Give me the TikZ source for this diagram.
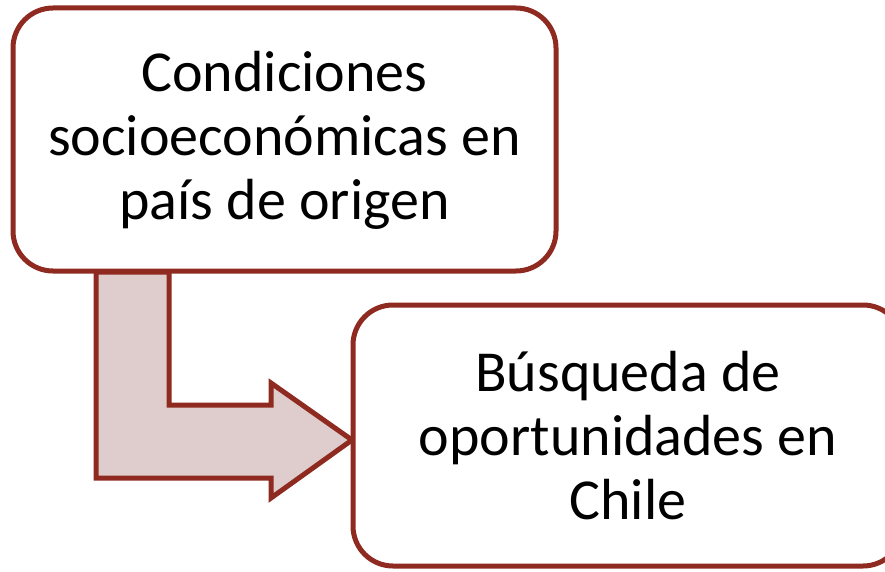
\documentclass[tikz,border=0pt]{standalone}
\usepackage{fontspec}
\setmainfont{Carlito}
\definecolor{edgered}{HTML}{8E2A1F}
\definecolor{arrowfill}{HTML}{DFCDCD}
\begin{document}
\begin{tikzpicture}[x=1pt,y=1pt,
  roundbox/.style={draw=edgered, line width=5pt, fill=white, rounded corners=40pt},
  boxtext/.style={align=center, font=\fontsize{58}{64}\selectfont, text=black},
  blockarrow/.style={draw=edgered, line width=5pt, fill=arrowfill, line join=miter}]
\useasboundingbox (0,0) rectangle (885,571);
\clip (0,0) rectangle (885,571);
% bent block arrow
\draw[blockarrow] (96,299) -- (169,299) -- (169,166) -- (271,166) -- (271,188)
  -- (352,131) -- (271,73) -- (271,93) -- (96,93) -- cycle;
% boxes
\draw[roundbox] (13,563) rectangle (556,300);
\node[boxtext] (a) at (284.5,431) {Condiciones\\socioeconómicas en\\país de origen};
\draw[roundbox] (353,266) rectangle (903,5);
\node[boxtext] (b) at (628,135) {Búsqueda de\\oportunidades en\\Chile};
\end{tikzpicture}
\end{document}
